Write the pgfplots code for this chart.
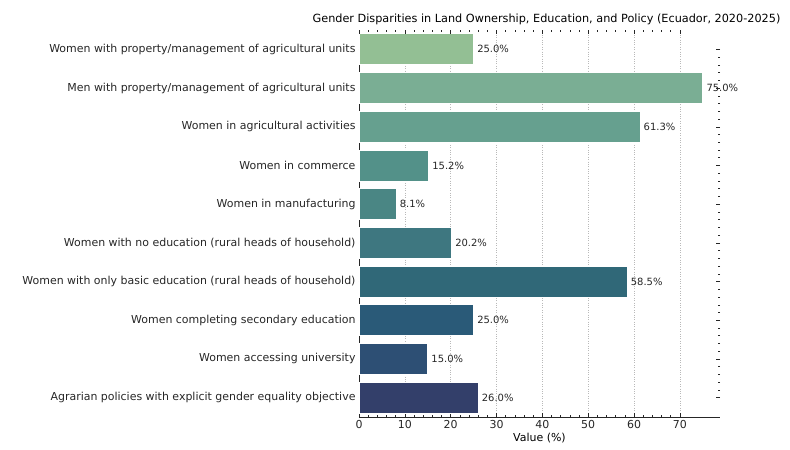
\documentclass[border=0pt]{standalone}
\usepackage{fontspec}
\setmainfont{DejaVu Sans}
\usepackage{pgfplots}
\pgfplotsset{compat=1.18}

\definecolor{c0}{HTML}{93BF94}
\definecolor{c1}{HTML}{7AAE94}
\definecolor{c2}{HTML}{66A08F}
\definecolor{c3}{HTML}{539189}
\definecolor{c4}{HTML}{4A8684}
\definecolor{c5}{HTML}{3E7780}
\definecolor{c6}{HTML}{306878}
\definecolor{c7}{HTML}{2A5A78}
\definecolor{c8}{HTML}{2D4F74}
\definecolor{c9}{HTML}{333F6A}

\begin{document}
\begin{tikzpicture}[font=\fontsize{11}{13}\selectfont]
\path[use as bounding box] (-359bp,-33bp) rectangle (431bp,417bp);
\begin{axis}[
    at={(0,0)}, anchor=south west,
    scale only axis, width=361bp, height=387bp,
    xmin=0, xmax=78.75,
    ymin=-0.5, ymax=9.5, y dir=reverse,
    xbar, bar width=0.8, bar shift=0pt,
    axis x line*=bottom, axis y line*=left,
    axis line style={black!85, line width=0.8pt},
    xtick={0,10,...,70}, minor x tick num=4,
    xtick pos=bottom, ytick pos=left,
    tick align=inside,
    major tick length=4bp, minor tick length=2bp,
    tick style={black!85, line width=0.5pt},
    ytick={0,...,9},
    yticklabels={
        {Women with property/management of agricultural units},
        {Men with property/management of agricultural units},
        {Women in agricultural activities},
        {Women in commerce},
        {Women in manufacturing},
        {Women with no education (rural heads of household)},
        {Women with only basic education (rural heads of household)},
        {Women completing secondary education},
        {Women accessing university},
        {Agrarian policies with explicit gender equality objective}},
    xmajorgrids, grid style={dotted, gray!55, line width=0.5pt},
    xlabel={Value (\%)},
    xlabel style={yshift=2bp},
    title={Gender Disparities in Land Ownership, Education, and Policy (Ecuador, 2020-2025)},
    title style={font=\fontsize{11.3}{13}\selectfont, yshift=-4bp, xshift=7bp},
    ticklabel style={text=black!85},
    /pgf/number format/assume math mode=true,
    point meta=x,
    nodes near coords={\pgfmathprintnumber[fixed,fixed zerofill,precision=1]{\pgfplotspointmeta}\%},
    nodes near coords align=horizontal,
    every node near coord/.append style={text=black!85, font=\fontsize{10}{12}\selectfont},
]
\addplot[fill=c0, draw=white, line width=0.8pt] coordinates {(25.0,0)};
\addplot[fill=c1, draw=white, line width=0.8pt] coordinates {(75.0,1)};
\addplot[fill=c2, draw=white, line width=0.8pt] coordinates {(61.3,2)};
\addplot[fill=c3, draw=white, line width=0.8pt] coordinates {(15.2,3)};
\addplot[fill=c4, draw=white, line width=0.8pt] coordinates {(8.1,4)};
\addplot[fill=c5, draw=white, line width=0.8pt] coordinates {(20.2,5)};
\addplot[fill=c6, draw=white, line width=0.8pt] coordinates {(58.5,6)};
\addplot[fill=c7, draw=white, line width=0.8pt] coordinates {(25.0,7)};
\addplot[fill=c8, draw=white, line width=0.8pt] coordinates {(15.0,8)};
\addplot[fill=c9, draw=white, line width=0.8pt] coordinates {(26.0,9)};
\end{axis}
\begin{axis}[
    at={(0,0)}, anchor=south west,
    scale only axis, width=361bp, height=387bp,
    xmin=0, xmax=78.75,
    ymin=-0.5, ymax=9.5, y dir=reverse,
    axis x line*=top, axis y line*=right,
    axis line style={draw=none},
    xtick={0,10,...,70}, xticklabels={}, minor x tick num=4,
    ytick={0,...,9}, yticklabels={}, minor y tick num=4,
    xtick pos=top, ytick pos=right, tick align=inside,
    major tick length=4bp, minor tick length=2bp,
    tick style={black!85, line width=0.5pt},
]
\end{axis}
\end{tikzpicture}
\end{document}
